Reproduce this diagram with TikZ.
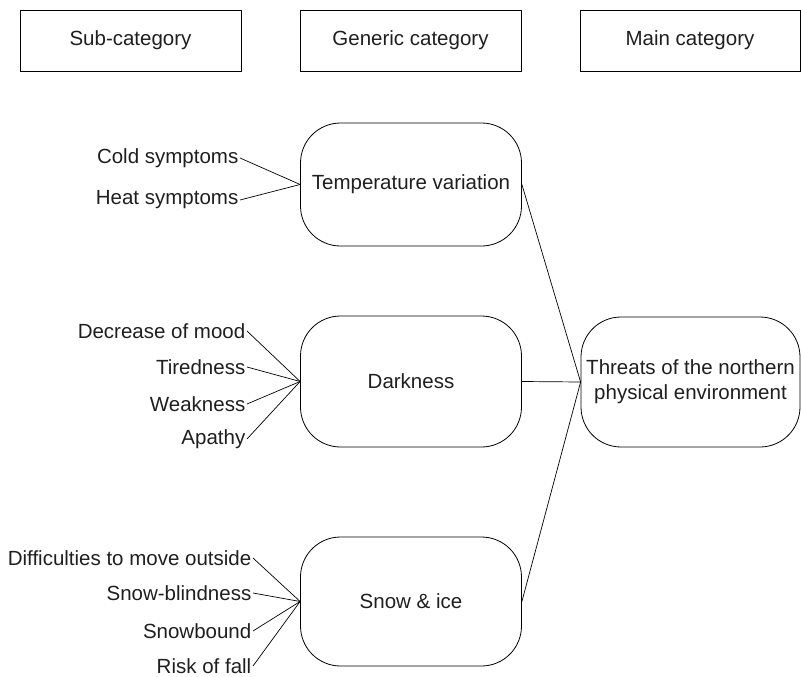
\documentclass[tikz,border=0pt]{standalone}
\usepackage{fontspec}
\setmainfont{Liberation Sans}
\begin{document}
\begin{tikzpicture}[x=1pt,y=-1pt,
  every node/.style={font=\fontsize{20.5}{25}\selectfont, text=black!88},
  hdr/.style={draw, line width=0.8pt, minimum width=221pt, minimum height=61pt, inner sep=0pt},
  rbox/.style={draw, line width=0.8pt, rounded corners=40pt, minimum width=221pt, inner sep=0pt, align=center},
  lbl/.style={anchor=east, inner sep=1.5pt},
  conn/.style={line width=0.7pt}]
\useasboundingbox (0,0) rectangle (801,677);
% header boxes
\node[hdr] (hsub) at (130.5,40.5) {Sub-category};
\node[hdr] (hgen) at (410.5,40.5) {Generic category};
\node[hdr, minimum width=220pt] (hmain) at (690,40.5) {Main category};
% generic category boxes
\node[rbox, minimum height=123pt] (temp) at (411,184.5) {Temperature variation};
\node[rbox, minimum height=131pt] (dark) at (411,381.5) {Darkness};
\node[rbox, minimum height=129pt] (snow) at (411,601.5) {Snow \& ice};
% main category
\node[rbox, minimum width=219pt, minimum height=130pt] (main) at (690.5,382) {Threats of the northern\\physical environment};
% sub-categories
\node[lbl] (cold) at (240,158) {Cold symptoms};
\node[lbl] (heat) at (240,200) {Heat symptoms};
\node[lbl] (mood) at (247,331) {Decrease of mood};
\node[lbl] (tired) at (247,367) {Tiredness};
\node[lbl] (weak) at (247,404) {Weakness};
\node[lbl] (apathy) at (247,439) {Apathy};
\node[lbl] (diff) at (253,558) {Difficulties to move outside};
\node[lbl] (blind) at (253,593) {Snow-blindness};
\node[lbl] (bound) at (253,631) {Snowbound};
\node[lbl] (fall) at (253,666) {Risk of fall};
% connectors
\foreach \s in {cold,heat} \draw[conn] (\s.east) -- (temp.west);
\foreach \s in {mood,tired,weak,apathy} \draw[conn] (\s.east) -- (dark.west);
\foreach \s in {diff,blind,bound,fall} \draw[conn] (\s.east) -- (snow.west);
\draw[conn] (temp.east) -- (main.west);
\draw[conn] (dark.east) -- (main.west);
\draw[conn] (snow.east) -- (main.west);
\end{tikzpicture}
\end{document}
